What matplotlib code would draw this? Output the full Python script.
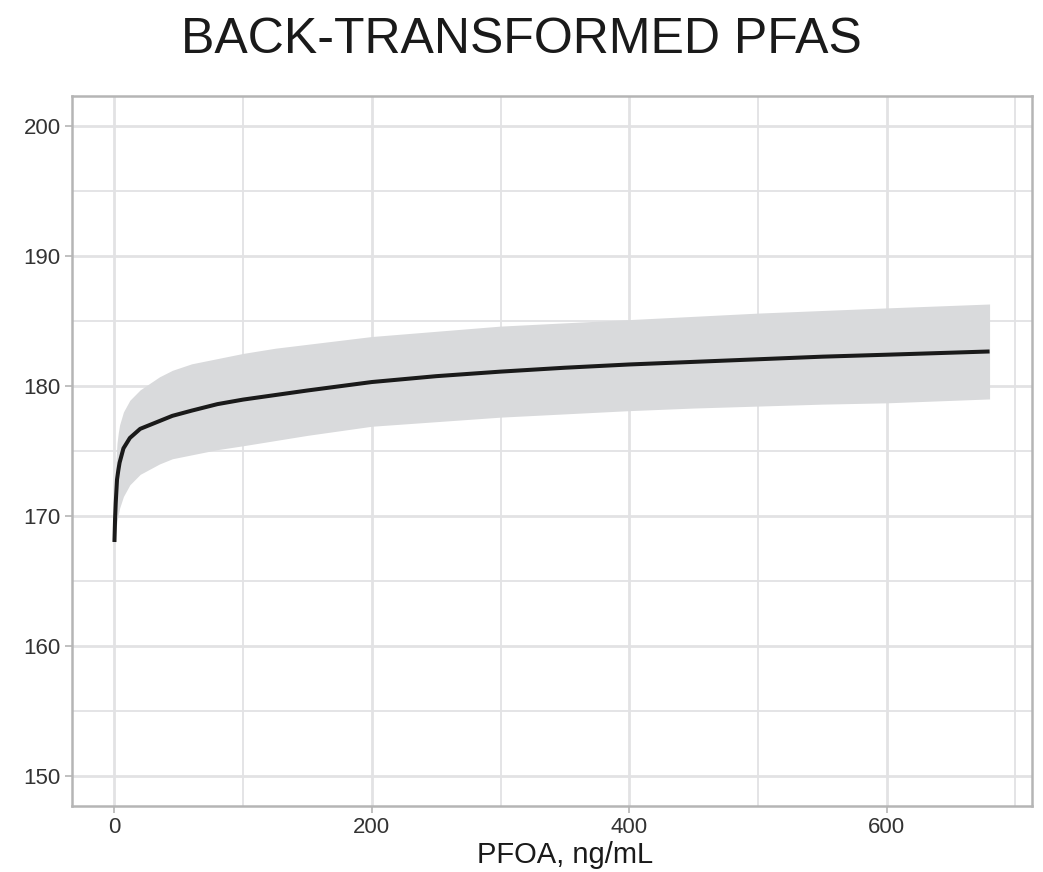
import matplotlib
matplotlib.use("Agg")
import matplotlib.pyplot as plt
from matplotlib.ticker import MultipleLocator

# values (PFOA in ng/mL, outcome on y)
pfoa = [0, 0.5, 1, 2, 3, 4, 7, 12, 20, 35, 45, 60, 80, 100, 125, 150, 200,
        250, 300, 350, 400, 450, 500, 550, 600, 680]
fit = [168.0, 169.8, 171.0, 172.8, 173.5, 174.1, 175.2, 176.0, 176.7, 177.3,
       177.7, 178.1, 178.6, 178.95, 179.3, 179.65, 180.3, 180.75, 181.1, 181.4,
       181.65, 181.85, 182.05, 182.25, 182.4, 182.65]
upper = [168.8, 172.5, 174.0, 175.6, 176.4, 177.0, 178.0, 178.9, 179.7, 180.7,
         181.2, 181.7, 182.1, 182.5, 182.9, 183.2, 183.8, 184.2, 184.6, 184.85,
         185.1, 185.35, 185.6, 185.8, 186.0, 186.3]
lower = [167.8, 168.2, 168.8, 169.6, 170.1, 170.6, 171.5, 172.4, 173.2, 174.0,
         174.4, 174.7, 175.1, 175.4, 175.8, 176.2, 176.9, 177.25, 177.6, 177.85,
         178.1, 178.3, 178.45, 178.6, 178.7, 179.0]

x_ticks = [0, 200, 400, 600]
y_ticks = [150, 160, 170, 180, 190, 200]

plt.rcParams['font.family'] = ['Liberation Sans', 'DejaVu Sans']

fig = plt.figure(figsize=(10.43, 8.72), dpi=100)
ax = fig.add_axes([0.069, 0.0757, 0.9205, 0.8143])

ax.fill_between(pfoa, lower, upper, color='#d9dadc', linewidth=0, zorder=2)
ax.plot(pfoa, fit, color='#1a1a1a', linewidth=2.9, solid_capstyle='butt',
        solid_joinstyle='round', zorder=3)

ax.set_xlim(-33, 713)
ax.set_ylim(147.7, 202.3)
ax.set_xticks(x_ticks)
ax.set_yticks(y_ticks)
ax.xaxis.set_minor_locator(MultipleLocator(100))
ax.yaxis.set_minor_locator(MultipleLocator(5))

ax.grid(which='major', color='#e2e2e4', linewidth=2.0, zorder=1)
ax.grid(which='minor', color='#e2e2e4', linewidth=1.3, zorder=1)
ax.set_axisbelow(True)

for s in ax.spines.values():
    s.set_color('#b5b5b5')
    s.set_linewidth(1.8)

ax.tick_params(which='major', length=5, width=1.2, color='#b5b5b5',
               labelsize=16, labelcolor='#333333', pad=3)
ax.tick_params(which='minor', length=0)

ax.set_xlabel('PFOA, ng/mL', fontsize=21, color='#1a1a1a')
ax.xaxis.set_label_coords(0.514, -0.05)
ax.xaxis.label.set_va('top')
fig.suptitle('BACK-TRANSFORMED PFAS', fontsize=36, color='#1a1a1a', y=0.98, va='top')

fig.savefig('out.png', dpi=100)
